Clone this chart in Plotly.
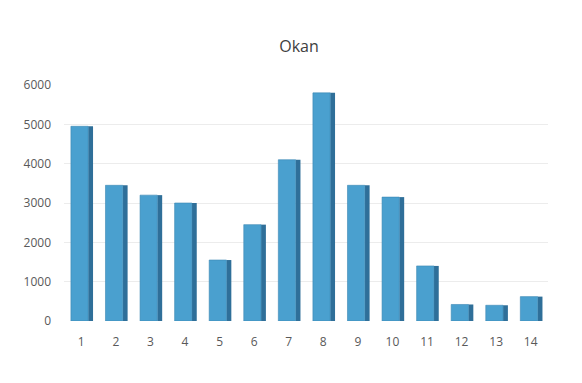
import plotly.graph_objects as go

categories = [str(i) for i in range(1, 15)]
values = [4950, 3450, 3200, 3000, 1550, 2450, 4100, 5800, 3450, 3150, 1400, 420, 400, 620]
y_ticks = [0, 1000, 2000, 3000, 4000, 5000, 6000]

fig = go.Figure()
# side face (3D look)
fig.add_trace(go.Bar(x=categories, y=values, width=0.14, offset=0.2,
                     marker=dict(color="#2f6f99", line=dict(width=0)),
                     hoverinfo="skip", showlegend=False))
# front face
fig.add_trace(go.Bar(x=categories, y=values, width=0.5, offset=-0.3,
                     marker=dict(color="#4aa0cf", line=dict(color="#3a86b4", width=0.6)),
                     showlegend=False))

fig.update_layout(
    width=582, height=383,
    margin=dict(l=56, r=42, t=77, b=70),
    paper_bgcolor="#ffffff", plot_bgcolor="#ffffff",
    title=dict(text="Okan", x=0.5, xanchor="center", y=0.9, yanchor="middle",
               font=dict(family="Open Sans", size=16, color="#404040")),
    font=dict(family="Open Sans", size=12, color="#595959"),
    barmode="overlay",
    xaxis=dict(type="category", showgrid=False, zeroline=False, showline=False,
               ticks="", ticklabelstandoff=12, tickfont=dict(size=12, color="#595959")),
    yaxis=dict(range=[0, 6000], tickvals=y_ticks, showgrid=True, gridcolor="#ececec",
               gridwidth=1, zeroline=False, showline=False, ticks="",
               ticklabelstandoff=12, tickfont=dict(size=12, color="#595959")),
)

fig.write_html("out.html")
